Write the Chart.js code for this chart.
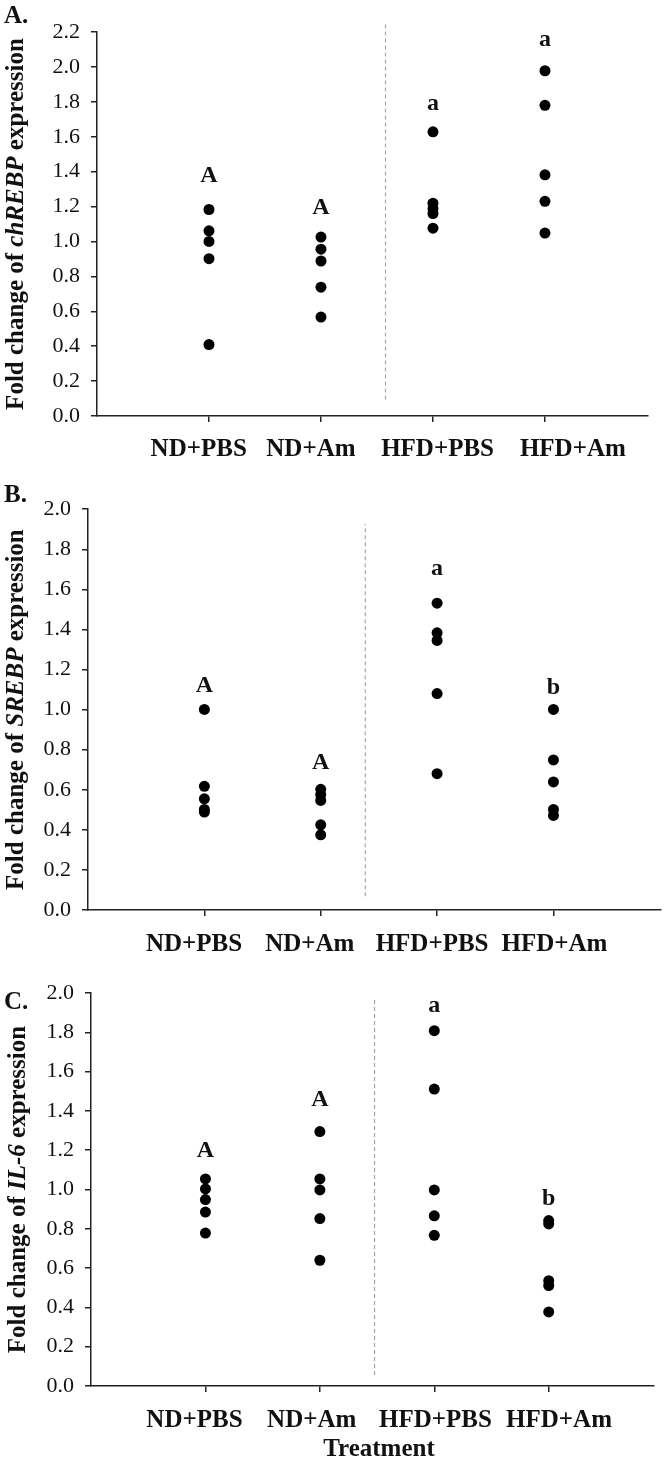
<!DOCTYPE html>
<html>
<head>
<meta charset="utf-8">
<script src="https://cdn.jsdelivr.net/npm/chart.js@4.4.1/dist/chart.umd.min.js"></script>
<style>
  body { margin: 0; background: #fff; }
  .panel { position: absolute; left: 0; width: 666px; }
</style>
</head>
<body>
<div class="panel" style="top:0px"><canvas id="chA" width="666" height="485"></canvas></div>
<div class="panel" style="top:485px"><canvas id="chB" width="666" height="480"></canvas></div>
<div class="panel" style="top:965px"><canvas id="chC" width="666" height="506"></canvas></div>
<script>
// grupos
const grupos = ['ND+PBS', 'ND+Am', 'HFD+PBS', 'HFD+Am'];

// A. chREBP
const chrebpNdPbs = [1.183, 1.061, 1.000, 0.901, 0.409];
const chrebpNdAm = [1.025, 0.956, 0.888, 0.738, 0.567];
const chrebpHfdPbs = [1.628, 1.219, 1.188, 1.160, 1.076];
const chrebpHfdAm = [1.978, 1.780, 1.382, 1.230, 1.048];
const chrebpLetras = ['A', 'A', 'a', 'a'];
const chrebpLetrasY = [1.384, 1.202, 1.782, 2.149];

// B. SREBP
const srebpNdPbs = [1.001, 0.617, 0.555, 0.502, 0.489];
const srebpNdAm = [0.602, 0.576, 0.547, 0.425, 0.375];
const srebpHfdPbs = [1.531, 1.383, 1.345, 1.080, 0.680];
const srebpHfdAm = [1.001, 0.749, 0.639, 0.502, 0.472];
const srebpLetras = ['A', 'A', 'a', 'b'];
const srebpLetrasY = [1.124, 0.741, 1.699, 1.116];

// C. IL-6
const il6NdPbs = [1.054, 1.003, 0.949, 0.885, 0.778];
const il6NdAm = [1.295, 1.054, 0.998, 0.852, 0.640];
const il6HfdPbs = [1.808, 1.511, 0.998, 0.866, 0.767];
const il6HfdAm = [0.842, 0.825, 0.536, 0.511, 0.377];
const il6Letras = ['A', 'A', 'a', 'b'];
const il6LetrasY = [1.202, 1.465, 1.932, 0.961];

// eixo y
const yMaxA = 2.2;
const yMaxBC = 2.0;
const yPasso = 0.2;

const FONTE = '"Liberation Serif", "Times New Roman", serif';

// desenha textos extras (letra do painel, titulo do eixo y, rotulos, letras)
const extras = {
    id: 'extras',
    afterDraw(chart, args, o) {
        const ctx = chart.ctx;
        const xs = chart.scales.x, ys = chart.scales.y;
        const area = chart.chartArea;
        ctx.save();
        ctx.fillStyle = '#111';

        // letra do painel
        ctx.font = 'bold 25px ' + FONTE;
        ctx.textAlign = 'left';
        ctx.textBaseline = 'middle';
        ctx.fillText(o.painel, 4, o.painelY);

        // titulo y com parte em italico
        const partes = [
            { t: 'Fold change of ', f: 'bold 25px ' + FONTE },
            { t: o.gene, f: 'italic bold 25px ' + FONTE },
            { t: ' expression', f: 'bold 25px ' + FONTE }
        ];
        let total = 0;
        partes.forEach(p => { ctx.font = p.f; p.w = ctx.measureText(p.t).width; total += p.w; });
        ctx.translate(o.tituloX, (area.top + area.bottom) / 2);
        ctx.rotate(-Math.PI / 2);
        let cx = -total / 2;
        partes.forEach(p => { ctx.font = p.f; ctx.fillText(p.t, cx, 0); cx += p.w; });
        ctx.setTransform(1, 0, 0, 1, 0, 0);

        // letras de significancia
        ctx.font = 'bold 24px ' + FONTE;
        ctx.textAlign = 'center';
        ctx.textBaseline = 'alphabetic';
        o.letras.forEach((l, i) => {
            const m = ctx.measureText(l);
            ctx.fillText(l, xs.getPixelForValue(i), ys.getPixelForValue(o.letrasY[i]) + m.actualBoundingBoxAscent / 2);
        });

        // rotulos dos grupos
        ctx.font = 'bold 25px ' + FONTE;
        const cap = ctx.measureText('H').actualBoundingBoxAscent;
        grupos.forEach((g, i) => {
            ctx.fillText(g, xs.getPixelForValue(o.rotulosX[i]), o.rotulosY + cap / 2);
        });

        if (o.eixoX) {
            ctx.fillText(o.eixoX, 379, o.eixoXY + cap / 2);
        }
        ctx.restore();
    }
};

function criaPainel(id, g, d) {
    const canvas = document.getElementById(id);
    const H = canvas.height;
    const pontos = [];
    g.valores.forEach((arr, i) => arr.forEach(v => pontos.push({ x: i, y: v })));

    return new Chart(canvas.getContext('2d'), {
        type: 'scatter',
        data: {
            datasets: [{
                data: pontos,
                backgroundColor: '#000',
                borderColor: '#000',
                pointRadius: 5.5,
                pointBorderWidth: 0
            }, {
                type: 'line',
                data: [{ x: g.divisorX, y: g.divisorY[0] }, { x: g.divisorX, y: g.divisorY[1] }],
                borderColor: '#a8a8a8',
                borderWidth: 1.2,
                borderDash: [4, 3],
                pointRadius: 0,
                clip: false
            }]
        },
        options: {
            responsive: false,
            animation: false,
            devicePixelRatio: 1,
            layout: { padding: { left: 0, top: d.topo, right: 666 - d.direita, bottom: 0 } },
            plugins: {
                legend: { display: false },
                tooltip: { enabled: false },
                extras: d.extras
            },
            scales: {
                x: {
                    type: 'linear',
                    min: -1,
                    max: 3.92,
                    afterBuildTicks: s => { s.ticks = [0, 1, 2, 3].map(v => ({ value: v })); },
                    afterFit: s => { s.height = H - d.base; },
                    ticks: { display: false },
                    grid: { drawOnChartArea: false, drawTicks: true, tickLength: 6, color: '#222', lineWidth: 1.5 },
                    border: { color: '#222', width: 1.5 }
                },
                y: {
                    min: 0,
                    max: g.yMax,
                    afterBuildTicks: s => {
                        const t = [];
                        for (let k = 0; k <= Math.round(g.yMax / yPasso); k++) t.push({ value: +(k * yPasso).toFixed(1) });
                        s.ticks = t;
                    },
                    afterFit: s => { s.width = d.esquerda; },
                    ticks: {
                        color: '#111',
                        padding: 11,
                        font: { family: FONTE, size: 22 },
                        callback: v => v.toFixed(1)
                    },
                    grid: { drawOnChartArea: false, drawTicks: true, tickLength: 6, color: '#222', lineWidth: 1.5 },
                    border: { color: '#222', width: 1.5 }
                }
            }
        },
        plugins: [extras]
    });
}

criaPainel('chA', {
    valores: [chrebpNdPbs, chrebpNdAm, chrebpHfdPbs, chrebpHfdAm],
    yMax: yMaxA,
    divisorX: 1.576,
    divisorY: [0.095, 2.245]
}, {
    topo: 32, base: 416, esquerda: 97, direita: 648,
    extras: {
        painel: 'A.', painelY: 17, gene: 'chREBP', tituloX: 17,
        letras: chrebpLetras, letrasY: chrebpLetrasY,
        rotulosX: [-0.092, 0.910, 2.041, 3.249], rotulosY: 447
    }
});

criaPainel('chB', {
    valores: [srebpNdPbs, srebpNdAm, srebpHfdPbs, srebpHfdAm],
    yMax: yMaxBC,
    divisorX: 1.383,
    divisorY: [0.069, 1.926]
}, {
    topo: 20, base: 425, esquerda: 88, direita: 666,
    extras: {
        painel: 'B.', painelY: 11, gene: 'SREBP', tituloX: 17,
        letras: srebpLetras, letrasY: srebpLetrasY,
        rotulosX: [-0.089, 0.906, 1.957, 3.009], rotulosY: 457
    }
});

criaPainel('chC', {
    valores: [il6NdPbs, il6NdAm, il6HfdPbs, il6HfdAm],
    yMax: yMaxBC,
    divisorX: 1.478,
    divisorY: [0.056, 1.971]
}, {
    topo: 28, base: 421, esquerda: 91, direita: 654,
    extras: {
        painel: 'C.', painelY: 38, gene: 'IL-6', tituloX: 19,
        letras: il6Letras, letrasY: il6LetrasY,
        rotulosX: [-0.096, 0.929, 2.010, 3.090], rotulosY: 453,
        eixoX: 'Treatment', eixoXY: 482
    }
});
</script>
</body>
</html>
